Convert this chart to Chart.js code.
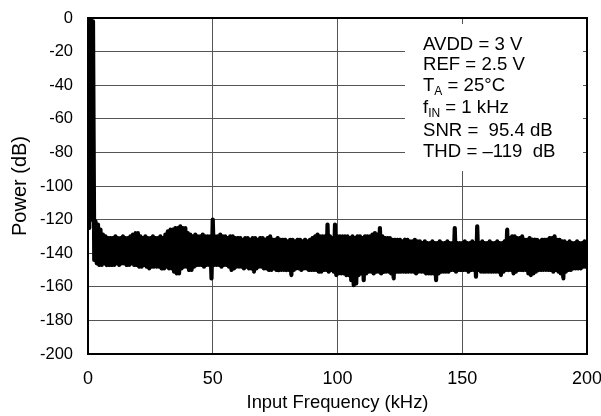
<!DOCTYPE html>
<html>
<head>
<meta charset="utf-8">
<script src="https://cdn.jsdelivr.net/npm/chart.js@4.4.1/dist/chart.umd.min.js"></script>
<style>
  html, body { margin: 0; padding: 0; background: #fff; }
  #c { display: block; }
</style>
</head>
<body>
<canvas id="c" width="601" height="416"></canvas>
<script>
// Spectrum: local maxima at k kHz (k = 0..200)
const peakFreqStart = 0;
const peaks = [
  0, 0, -2, -121, -123, -126, -129, -130, -131, -131,
  -131, -130, -131, -131, -130, -131, -131, -130, -129, -128,
  -128, -130, -131, -130, -131, -131, -130, -131, -131, -130,
  -131, -129, -127, -126, -126, -125, -125, -124, -125, -125,
  -128, -129, -130, -129, -130, -130, -129, -130, -130, -130,
  -120, -130, -130, -129, -130, -130, -131, -130, -130, -131,
  -131, -131, -132, -131, -131, -132, -131, -131, -132, -131,
  -131, -132, -131, -130, -132, -132, -131, -132, -132, -132,
  -133, -132, -132, -133, -132, -132, -133, -132, -133, -132,
  -131, -130, -129, -130, -130, -130, -123, -130, -131, -123,
  -130, -130, -130, -130, -130, -131, -130, -131, -130, -130,
  -131, -130, -130, -130, -129, -128, -129, -125, -130, -131,
  -131, -131, -132, -132, -132, -132, -133, -132, -132, -133,
  -133, -132, -133, -133, -134, -133, -134, -134, -133, -134,
  -134, -133, -134, -134, -133, -134, -134, -125, -134, -134,
  -134, -133, -134, -134, -133, -134, -124, -134, -133, -134,
  -134, -133, -134, -134, -133, -134, -134, -133, -126, -131,
  -130, -130, -131, -131, -130, -132, -132, -131, -132, -132,
  -132, -133, -132, -132, -132, -131, -131, -130, -132, -132,
  -133, -133, -134, -133, -134, -134, -133, -134, -134, -133,
  -133
];
// local minima at k + 0.5 kHz (k = 0..199)
const troughs = [
  -125, -120, -144, -146, -147, -147, -146, -147, -147, -147,
  -147, -146, -147, -146, -146, -147, -147, -146, -147, -147,
  -148, -148, -147, -148, -149, -148, -148, -148, -148, -149,
  -149, -148, -149, -149, -151, -152, -152, -149, -148, -148,
  -150, -150, -148, -147, -147, -147, -148, -147, -147, -155,
  -147, -147, -147, -148, -147, -147, -148, -150, -149, -148,
  -148, -148, -149, -148, -149, -149, -151, -149, -148, -148,
  -149, -149, -150, -150, -149, -150, -150, -150, -150, -150,
  -150, -153, -150, -149, -149, -150, -149, -149, -150, -150,
  -150, -150, -151, -151, -150, -150, -151, -150, -151, -153,
  -152, -152, -152, -153, -153, -156, -159, -158, -153, -152,
  -156, -152, -151, -151, -152, -151, -151, -152, -151, -151,
  -151, -152, -155, -151, -151, -151, -151, -151, -151, -151,
  -151, -152, -151, -151, -151, -152, -152, -152, -152, -156,
  -152, -151, -151, -151, -151, -150, -150, -151, -150, -150,
  -150, -150, -151, -150, -150, -154, -150, -151, -151, -151,
  -151, -151, -151, -151, -151, -153, -151, -150, -150, -150,
  -152, -151, -150, -150, -150, -150, -152, -153, -152, -151,
  -150, -150, -150, -150, -150, -150, -151, -150, -151, -152,
  -155, -151, -150, -150, -149, -149, -149, -149, -148, -148
];
const xTicks = [0, 50, 100, 150, 200];
const yTicks = [-200, -180, -160, -140, -120, -100, -80, -60, -40, -20, 0];
const xTitle = 'Input Frequency (kHz)';
const yTitle = 'Power (dB)';
const noteLines = [
  [['AVDD = 3 V', false]],
  [['REF = 2.5 V', false]],
  [['T', false], ['A', true], [' = 25\u00B0C', false]],
  [['f', false], ['IN', true], [' = 1 kHz', false]],
  [['SNR =  95.4 dB', false]],
  [['THD = \u2013119  dB', false]]
];

// interleave maxima and minima into one trace
const points = [];
for (let k = 0; k < troughs.length; k++) {
  points.push({ x: peakFreqStart + k, y: peaks[k] });
  points.push({ x: peakFreqStart + k + 0.5, y: troughs[k] });
}
points.push({ x: peakFreqStart + troughs.length, y: peaks[troughs.length] });

const FONT = "'Liberation Sans', Arial, Helvetica, sans-serif";

const notePlugin = {
  id: 'note',
  beforeDatasetsDraw(chart) {
    const ctx = chart.ctx;
    ctx.save();
    ctx.fillStyle = '#fff';
    ctx.fillRect(405, 24, 178, 147);
    ctx.fillStyle = '#000';
    ctx.textBaseline = 'alphabetic';
    const baselines = [50, 70, 91, 113, 136, 157];
    noteLines.forEach((parts, i) => {
      let x = 423;
      parts.forEach(([txt, sub]) => {
        ctx.font = (sub ? '12px ' : '18.6px ') + FONT;
        ctx.fillText(txt, x, baselines[i] + (sub ? 4 : 0));
        x += ctx.measureText(txt).width;
      });
    });
    ctx.restore();
  },
  afterDraw(chart) {
    const { left, top, right, bottom } = chart.chartArea;
    const ctx = chart.ctx;
    ctx.save();
    ctx.strokeStyle = '#000';
    ctx.lineWidth = 2;
    ctx.strokeRect(left, top, right - left, bottom - top);
    ctx.restore();
  }
};

new Chart(document.getElementById('c'), {
  type: 'line',
  data: {
    datasets: [{
      data: points,
      borderColor: '#000',
      borderWidth: 4.2,
      borderJoinStyle: 'round',
      borderCapStyle: 'round',
      pointRadius: 0,
      tension: 0.0001,
      fill: false
    }]
  },
  options: {
    responsive: false,
    animation: false,
    devicePixelRatio: 1,
    layout: { padding: { top: 18, right: 14, left: 0, bottom: 0 } },
    plugins: { legend: { display: false }, tooltip: { enabled: false } },
    scales: {
      x: {
        type: 'linear', min: 0, max: 200,
        afterBuildTicks(s) { s.ticks = xTicks.map(v => ({ value: v })); },
        afterFit(s) { s.height = 62; s.paddingLeft = 0; s.paddingRight = 0; },
        ticks: { color: '#000', font: { family: FONT, size: 18 }, padding: 14, maxRotation: 0 },
        grid: { color: '#555', lineWidth: 1, drawTicks: false },
        border: { display: false },
        title: { display: true, text: xTitle, color: '#000', font: { family: FONT, size: 18.4 }, padding: { top: 0, bottom: 2 } }
      },
      y: {
        type: 'linear', min: -200, max: 0,
        afterBuildTicks(s) { s.ticks = yTicks.map(v => ({ value: v })); },
        afterFit(s) { s.width = 88; s.paddingTop = 0; s.paddingBottom = 0; },
        ticks: { color: '#000', font: { family: FONT, size: 16.5 }, padding: 15 },
        grid: { color: '#555', lineWidth: 1, drawTicks: false },
        border: { display: false },
        title: { display: true, text: yTitle, color: '#000', font: { family: FONT, size: 20 }, padding: { top: 8, bottom: 0 } }
      }
    }
  },
  plugins: [notePlugin]
});
</script>
</body>
</html>
